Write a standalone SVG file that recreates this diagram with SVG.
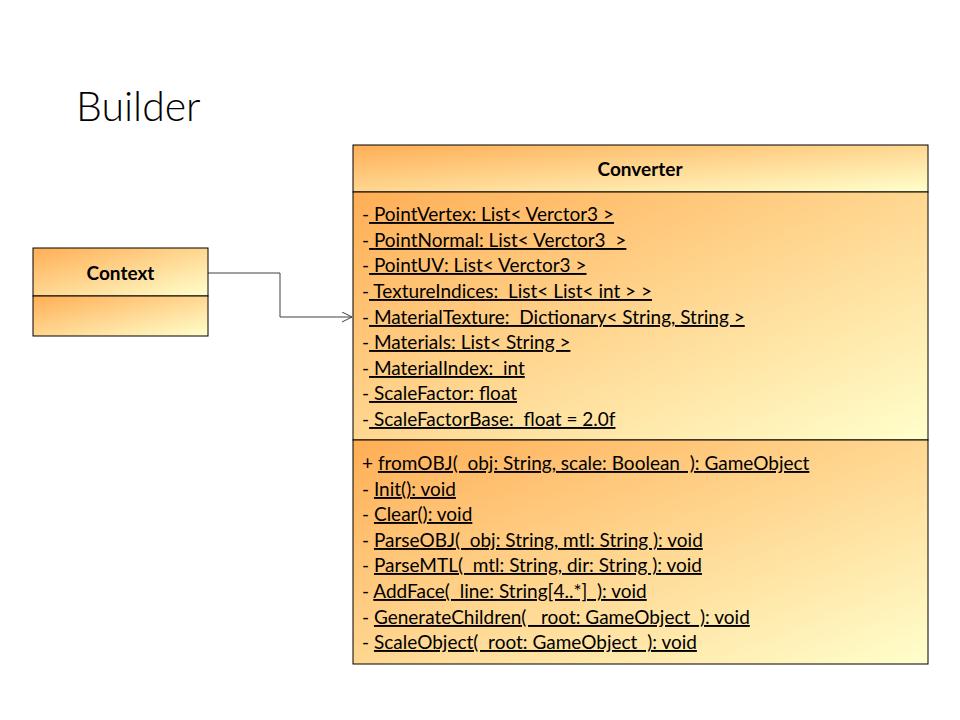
<svg xmlns="http://www.w3.org/2000/svg" width="960" height="720" viewBox="0 0 960 720">
<defs>
<linearGradient id="g" x1="0" y1="0" x2="1" y2="1">
<stop offset="0" stop-color="#FFAE55"/>
<stop offset="1" stop-color="#FFFFCC"/>
</linearGradient>
<marker id="arr" markerWidth="12" markerHeight="12" refX="10" refY="5" orient="auto" markerUnits="userSpaceOnUse">
<path d="M0,0 L10,5 L0,10" fill="none" stroke="#404040" stroke-width="1"/>
</marker>
</defs>
<style>
.box{fill:url(#g);stroke:#000;stroke-width:1}
.t{font-family:Lato,"Open Sans",sans-serif;font-size:19px;fill:#000}
.b{font-family:Lato,"Open Sans",sans-serif;font-size:19px;font-weight:bold;fill:#000}
.u{text-decoration:underline}
.title{font-family:Lato,"Open Sans",sans-serif;font-size:41px;font-weight:300;fill:#000}
</style>
<rect width="960" height="720" fill="#fff"/>
<text class="title" x="76" y="121">Builder</text>
<g id="connectors">
<path d="M208,273 H280 V317 H352" fill="none" stroke="#404040" stroke-width="1" marker-end="url(#arr)"/>
</g>
<g id="Context">
<rect class="box" x="33" y="248" width="175" height="48"/>
<rect class="box" x="33" y="296" width="175" height="40"/>
<text class="b" x="120.5" y="280" text-anchor="middle">Context</text>
</g>
<g id="Converter">
<rect class="box" x="353" y="145" width="575" height="47"/>
<rect class="box" x="353" y="192" width="575" height="248"/>
<rect class="box" x="353" y="440" width="575" height="224"/>
<text class="b" x="640" y="176" text-anchor="middle">Converter</text>
<g class="t">
<text x="362" y="221">-<tspan class="u"> PointVertex: List&lt; Verctor3 &gt;</tspan></text>
<text x="362" y="247">-<tspan class="u"> PointNormal: List&lt; Verctor3&#160; &gt;</tspan></text>
<text x="362" y="272">-<tspan class="u"> PointUV: List&lt; Verctor3 &gt;</tspan></text>
<text x="362" y="298">-<tspan class="u"> TextureIndices:&#160; List&lt; List&lt; int &gt; &gt;</tspan></text>
<text x="362" y="324">-<tspan class="u"> MaterialTexture:&#160; Dictionary&lt; String, String &gt;</tspan></text>
<text x="362" y="349">-<tspan class="u"> Materials: List&lt; String &gt;</tspan></text>
<text x="362" y="375">-<tspan class="u"> MaterialIndex:&#160; int</tspan></text>
<text x="362" y="400">-<tspan class="u"> ScaleFactor: float</tspan></text>
<text x="362" y="426">-<tspan class="u"> ScaleFactorBase:&#160; float = 2.0f</tspan></text>
<text x="362" y="470">+ <tspan class="u">fromOBJ(&#160; obj: String, scale: Boolean&#160; ): GameObject</tspan></text>
<text x="362" y="496">- <tspan class="u">Init(): void</tspan></text>
<text x="362" y="521">- <tspan class="u">Clear(): void</tspan></text>
<text x="362" y="547">- <tspan class="u">ParseOBJ(&#160; obj: String, mtl: String ): void</tspan></text>
<text x="362" y="572">- <tspan class="u">ParseMTL(&#160; mtl: String, dir: String ): void</tspan></text>
<text x="362" y="598">- <tspan class="u">AddFace(&#160; line: String[4..*]&#160; ): void</tspan></text>
<text x="362" y="624">- <tspan class="u">GenerateChildren(&#160;&#160; root: GameObject&#160; ): void</tspan></text>
<text x="362" y="649">- <tspan class="u">ScaleObject(&#160; root: GameObject&#160; ): void</tspan></text>
</g>
</g>
</svg>
